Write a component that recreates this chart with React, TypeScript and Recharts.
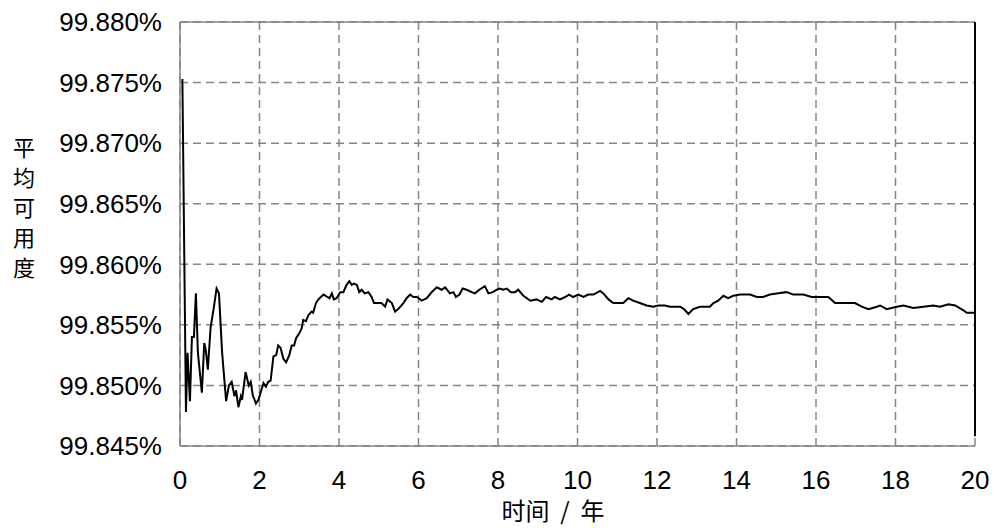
import { CartesianGrid, Line, LineChart, ReferenceLine, XAxis, YAxis } from "recharts";

const years = [
  0.06, 0.15, 0.19, 0.25, 0.3, 0.35, 0.4, 0.45, 0.55, 0.61,
  0.65, 0.7, 0.77, 0.84, 0.92, 0.98, 1.06, 1.16, 1.23, 1.3,
  1.37, 1.41, 1.47, 1.53, 1.56, 1.65, 1.73, 1.78, 1.83, 1.91,
  1.97, 2.01, 2.1, 2.16, 2.22, 2.28, 2.35, 2.42, 2.47, 2.53,
  2.6, 2.67, 2.75, 2.81, 2.87, 2.92, 3.0, 3.06, 3.1, 3.17,
  3.23, 3.31, 3.35, 3.42, 3.48, 3.61, 3.71, 3.76, 3.82, 3.87,
  3.94, 4.03, 4.11, 4.19, 4.26, 4.32, 4.38, 4.45, 4.51, 4.57,
  4.65, 4.74, 4.82, 4.88, 4.99, 5.07, 5.16, 5.22, 5.33, 5.41,
  5.49, 5.62, 5.7, 5.79, 5.87, 5.96, 6.08, 6.21, 6.33, 6.46,
  6.58, 6.67, 6.79, 6.88, 6.94, 7.03, 7.11, 7.21, 7.34, 7.42,
  7.53, 7.67, 7.76, 7.87, 7.97, 8.05, 8.13, 8.22, 8.32, 8.43,
  8.51, 8.64, 8.81, 8.97, 9.1, 9.21, 9.35, 9.43, 9.56, 9.69,
  9.79, 9.89, 10.02, 10.15, 10.27, 10.4, 10.57, 10.65, 10.78, 10.9,
  11.03, 11.15, 11.28, 11.4, 11.57, 11.74, 11.91, 12.03, 12.2, 12.33,
  12.45, 12.58, 12.68, 12.79, 12.91, 13.08, 13.33, 13.42, 13.54, 13.67,
  13.79, 13.92, 14.09, 14.34, 14.51, 14.67, 14.84, 15.05, 15.26, 15.43,
  15.68, 15.89, 16.1, 16.31, 16.48, 16.69, 16.98, 17.15, 17.32, 17.53,
  17.61, 17.78, 18.03, 18.2, 18.45, 18.7, 18.95, 19.12, 19.33, 19.5,
  19.71, 19.79, 20.0,
];

const availability = [
  99.8753, 99.8478, 99.8527, 99.8487, 99.854, 99.854, 99.8576, 99.8527, 99.8494, 99.8535,
  99.8529, 99.8513, 99.8548, 99.8562, 99.858, 99.8576, 99.8527, 99.8487, 99.85, 99.8503,
  99.8491, 99.8496, 99.8482, 99.8491, 99.8488, 99.8511, 99.85, 99.8503, 99.8492, 99.8485,
  99.8488, 99.8492, 99.8502, 99.8499, 99.8503, 99.8504, 99.8524, 99.8525, 99.8533, 99.8531,
  99.8522, 99.8519, 99.8525, 99.8533, 99.8533, 99.8539, 99.8543, 99.8547, 99.8554, 99.8553,
  99.8558, 99.8561, 99.856, 99.8568, 99.8571, 99.8575, 99.8573, 99.8572, 99.8576, 99.8571,
  99.8572, 99.8577, 99.8577, 99.8583, 99.8586, 99.8583, 99.8584, 99.8583, 99.8577, 99.8579,
  99.8576, 99.8577, 99.8573, 99.8568, 99.8568, 99.8568, 99.8565, 99.8571, 99.8568, 99.8561,
  99.8563, 99.8568, 99.8572, 99.8575, 99.8573, 99.8573, 99.857, 99.8572, 99.8577, 99.8581,
  99.8579, 99.8581, 99.8576, 99.8577, 99.8573, 99.8575, 99.858, 99.8579, 99.8577, 99.8576,
  99.8579, 99.8582, 99.8576, 99.8577, 99.8579, 99.858, 99.8579, 99.858, 99.8577, 99.8577,
  99.8579, 99.8574, 99.857, 99.8571, 99.8569, 99.8573, 99.8571, 99.8573, 99.8571, 99.8573,
  99.8575, 99.8573, 99.8575, 99.8573, 99.8575, 99.8575, 99.8578, 99.8576, 99.8571, 99.8568,
  99.8568, 99.8568, 99.8572, 99.857, 99.8568, 99.8566, 99.8565, 99.8566, 99.8566, 99.8565,
  99.8565, 99.8565, 99.8563, 99.8559, 99.8563, 99.8565, 99.8565, 99.8568, 99.857, 99.8574,
  99.8572, 99.8574, 99.8575, 99.8575, 99.8573, 99.8573, 99.8575, 99.8576, 99.8577, 99.8575,
  99.8575, 99.8573, 99.8573, 99.8573, 99.8568, 99.8568, 99.8568, 99.8565, 99.8563, 99.8565,
  99.8566, 99.8563, 99.8565, 99.8566, 99.8564, 99.8565, 99.8566, 99.8565, 99.8567, 99.8566,
  99.8562, 99.856, 99.856,
];

const xTicks = [0, 2, 4, 6, 8, 10, 12, 14, 16, 18, 20];
const yTicks = [99.845, 99.85, 99.855, 99.86, 99.865, 99.87, 99.875, 99.88];
const yLabelChars = ["平", "均", "可", "用", "度"];
const xLabel = "时间  /  年";

const data = years.map((t, i) => ({ t, v: availability[i] }));

const FONT = '"Liberation Sans", Arial, sans-serif';
const CJK = '"Noto Sans CJK SC", sans-serif';
const GRID = "#858585";

export default function App() {
  return (
    <div style={{ position: "absolute", left: 0, top: 0, background: "#fff" }}>
      <LineChart
        width={995}
        height={528}
        data={data}
        margin={{ top: 22, right: 20, bottom: 0, left: 0 }}
      >
        <CartesianGrid stroke={GRID} strokeDasharray="8 5" strokeWidth={1.5} />
        <XAxis
          dataKey="t"
          type="number"
          domain={[0, 20]}
          ticks={xTicks}
          height={82}
          stroke={GRID}
          strokeWidth={1.5}
          tickLine={false}
          tickSize={0}
          tickMargin={25}
          tick={{ fill: "#000", fontSize: 26, fontFamily: FONT }}
          label={({ viewBox }: any) => (
            <text
              x={viewBox.x + 373}
              y={viewBox.y + 74}
              textAnchor="middle"
              fontSize={24}
              fontFamily={CJK}
              fill="#000"
              style={{ whiteSpace: "pre" }}
            >
              {xLabel}
            </text>
          )}
        />
        <YAxis
          type="number"
          domain={[99.845, 99.88]}
          ticks={yTicks}
          width={180}
          stroke={GRID}
          strokeWidth={1.5}
          tickLine={false}
          tickSize={0}
          tickMargin={18}
          allowDataOverflow
          tickFormatter={(v: number) => `${v.toFixed(3)}%`}
          tick={{ fill: "#000", fontSize: 26, fontFamily: FONT }}
          label={() => (
            <g>
              {yLabelChars.map((c, i) => (
                <text
                  key={c}
                  x={24}
                  y={156 + i * 30}
                  textAnchor="middle"
                  fontSize={22}
                  fontFamily={CJK}
                  fill="#000"
                >
                  {c}
                </text>
              ))}
            </g>
          )}
        />
        <ReferenceLine y={99.88} stroke={GRID} strokeWidth={1.5} />
        <ReferenceLine
          segment={[
            { x: 20, y: 99.88 },
            { x: 20, y: 99.8458 },
          ]}
          stroke="#000"
          strokeWidth={2}
        />
        <Line
          type="linear"
          dataKey="v"
          stroke="#000"
          strokeWidth={2}
          dot={false}
          isAnimationActive={false}
        />
      </LineChart>
    </div>
  );
}
